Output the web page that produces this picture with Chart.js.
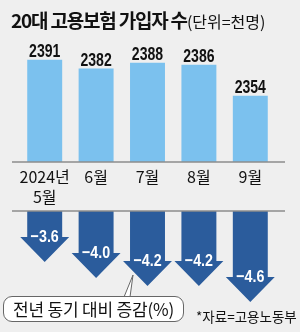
<!DOCTYPE html>
<html>
<head>
<meta charset="utf-8">
<script src="https://cdn.jsdelivr.net/npm/chart.js@4"></script>
<style>
  body { margin: 0; background: #efefef; }
  #wrap { position: relative; width: 300px; height: 332px; overflow: hidden; background: #efefef; font-family: "Noto Sans CJK KR", sans-serif; color: #111; }
  canvas { position: absolute; left: 0; top: 0; }
  #title { position: absolute; left: 11px; top: 6px; white-space: nowrap; }
  #title b { font-size: 19px; letter-spacing: -1.2px; font-weight: 700; }
  #title span { font-size: 16px; }
  #note { position: absolute; left: 3px; top: 296px; width: 181px; height: 26px; box-sizing: border-box;
          border: 1px solid #666; border-radius: 9px; background: #fff; font-size: 17px; letter-spacing: -0.2px; line-height: 23px; text-align: center; }
  #tail { position: absolute; left: 0; top: 0; }
  #src { position: absolute; left: 196px; top: 306px; font-size: 13.5px; white-space: nowrap; }
</style>
</head>
<body>
<div id="wrap">
  <canvas id="topChart" width="300" height="210"></canvas>
  <canvas id="bottomChart" width="300" height="332"></canvas>
  <div id="title"><b>20대 고용보험 가입자 수</b><span>(단위=천명)</span></div>
  <svg id="tail" width="300" height="332"><polygon points="124,297 133,275 130,297" fill="#fff" stroke="#666" stroke-width="1"/></svg>
  <div id="note">전년 동기 대비 증감(%)</div>
  <div id="src">*자료=고용노동부</div>
</div>
<script>
var months = [["2024년", "5월"], "6월", "7월", "8월", "9월"];
var members = [2391, 2382, 2388, 2386, 2354];
var changes = [-3.6, -4.0, -4.2, -4.2, -4.6];

Chart.defaults.animation = false;
Chart.defaults.responsive = false;
Chart.defaults.plugins.legend.display = false;
Chart.defaults.plugins.tooltip.enabled = false;

// axis line across the full width
function axisLine(yOf) {
  return {
    id: 'axisLine',
    afterDatasetsDraw: function (chart) {
      var ctx = chart.ctx;
      var y = yOf(chart);
      ctx.save();
      ctx.strokeStyle = '#8c8c8c';
      ctx.lineWidth = 1.5;
      ctx.beginPath();
      ctx.moveTo(12, y);
      ctx.lineTo(285, y);
      ctx.stroke();
      ctx.restore();
    }
  };
}

// narrow bold number, squeezed horizontally
function narrowText(ctx, txt, x, y, size, sx) {
  ctx.save();
  ctx.translate(x, y);
  ctx.scale(sx, 1);
  ctx.font = 'bold ' + size + 'px "Liberation Sans", Arial, sans-serif';
  ctx.textAlign = 'center';
  ctx.fillText(txt, 0, 0);
  ctx.restore();
}

var topLabels = {
  id: 'topLabels',
  afterDatasetsDraw: function (chart) {
    var ctx = chart.ctx;
    var meta = chart.getDatasetMeta(0);
    ctx.save();
    ctx.fillStyle = '#111';
    ctx.textBaseline = 'alphabetic';
    meta.data.forEach(function (bar, i) {
      narrowText(ctx, String(members[i]), bar.x, bar.y - 3, 19, 0.74);
    });
    ctx.restore();
  }
};

new Chart(document.getElementById('topChart'), {
  type: 'bar',
  data: {
    labels: months,
    datasets: [{ data: members, backgroundColor: '#7bc1ee', barPercentage: 0.68, categoryPercentage: 1 }]
  },
  options: {
    layout: { padding: { top: 40, left: 19, right: 24, bottom: 0 } },
    scales: {
      x: {
        grid: { display: false, drawTicks: false },
        border: { display: false },
        ticks: { color: '#111', padding: 5, autoSkip: false, maxRotation: 0, minRotation: 0,
                 font: { family: '"Noto Sans CJK KR"', size: 16, lineHeight: 1.25 } },
        afterFit: function (s) { s.height = 48; }
      },
      y: { display: false, min: 2286, max: 2411.4 }
    }
  },
  plugins: [axisLine(function (c) { return c.chartArea.bottom; }), topLabels]
});

var arrows = {
  id: 'arrows',
  afterDatasetsDraw: function (chart) {
    var ctx = chart.ctx;
    var meta = chart.getDatasetMeta(0);
    var head = 25, wing = 7;
    ctx.save();
    meta.data.forEach(function (bar, i) {
      var half = bar.width / 2;
      var top = Math.max(bar.base, chart.chartArea.top), tip = bar.y, neck = tip - head;
      ctx.fillStyle = '#2b5c9c';
      ctx.beginPath();
      ctx.moveTo(bar.x - half, top);
      ctx.lineTo(bar.x + half, top);
      ctx.lineTo(bar.x + half, neck);
      ctx.lineTo(bar.x + half + wing, neck);
      ctx.lineTo(bar.x, tip);
      ctx.lineTo(bar.x - half - wing, neck);
      ctx.lineTo(bar.x - half, neck);
      ctx.closePath();
      ctx.fill();
      ctx.fillStyle = '#fff';
      ctx.textBaseline = 'middle';
      narrowText(ctx, '\u2212' + Math.abs(changes[i]).toFixed(1), bar.x, neck, 17, 0.84);
    });
    ctx.restore();
  }
};

new Chart(document.getElementById('bottomChart'), {
  type: 'bar',
  data: {
    labels: months,
    datasets: [{ data: changes, backgroundColor: 'rgba(0,0,0,0)', barPercentage: 0.68, categoryPercentage: 1 }]
  },
  options: {
    layout: { padding: { top: 211, left: 19, right: 24, bottom: 14 } },
    scales: {
      x: { display: false },
      y: { display: false, min: -5.0, max: -2.325 }
    }
  },
  plugins: [arrows, axisLine(function (c) { return c.chartArea.top; })]
});
</script>
</body>
</html>
